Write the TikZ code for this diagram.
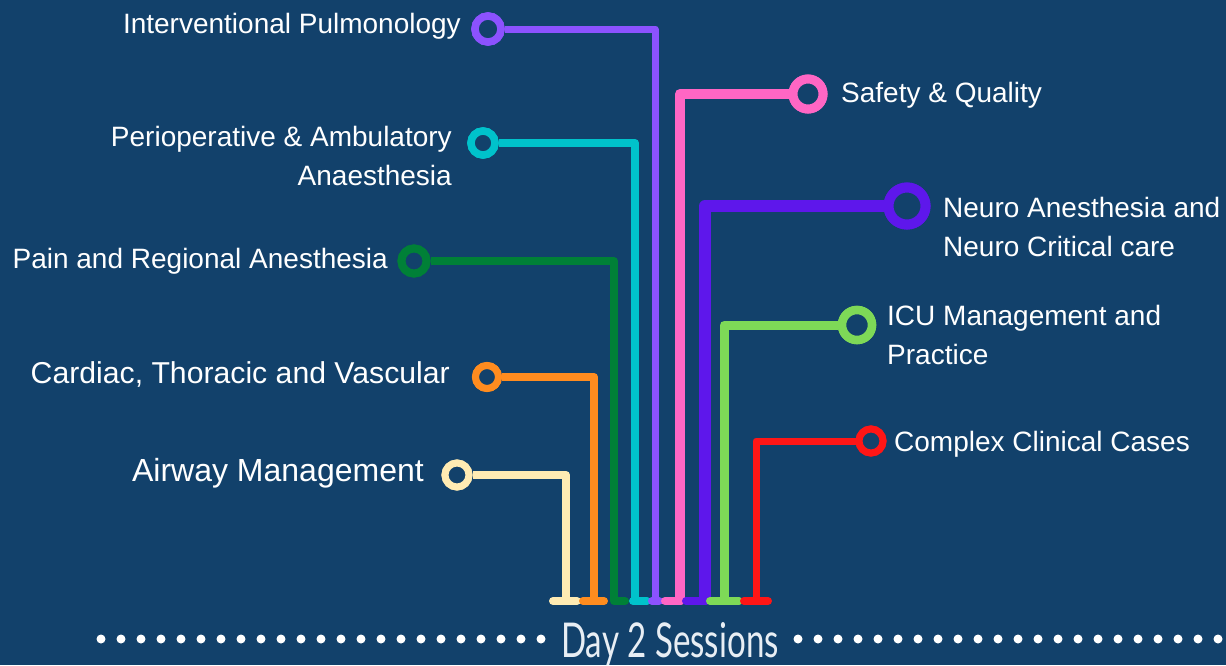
\documentclass[tikz,border=0pt]{standalone}
\usepackage{fontspec}
\setmainfont{Liberation Sans}
\newfontfamily\dayfont[FakeStretch=0.69]{Lato}
\definecolor{bgc}{HTML}{12416B}
\definecolor{cpurple}{HTML}{8C52FF}
\definecolor{ccyan}{HTML}{00C2CB}
\definecolor{cdgreen}{HTML}{008037}
\definecolor{corange}{HTML}{FF8C1F}
\definecolor{cyellow}{HTML}{FFEBB3}
\definecolor{cpink}{HTML}{FF66C4}
\definecolor{cviolet}{HTML}{5E17EB}
\definecolor{clgreen}{HTML}{7ED957}
\definecolor{cred}{HTML}{FF1616}
\definecolor{daytxt}{HTML}{E8EEF4}
\tikzset{
  ring/.style={circle, inner sep=0pt, draw=#1, fill=bgc},
  conn/.style={draw=#1, line join=round},
  foot/.style={draw=#1, line cap=round, line width=8pt},
  lbl/.style={text=white, inner sep=0pt, font=\fontsize{28}{39}\selectfont},
  dot/.style={fill=white}
}
\begin{document}
\begin{tikzpicture}[x=1pt,y=-1pt]
\fill[bgc] (0,0) rectangle (1226,665);
\useasboundingbox (0,0) rectangle (1226,665);

% bottom coordinates
\coordinate (b1) at (655,601);
\coordinate (b2) at (635,601);
\coordinate (b3) at (614,601);
\coordinate (b4) at (594,601);
\coordinate (b5) at (566,601);
\coordinate (b6) at (680,601);
\coordinate (b7) at (705,601);
\coordinate (b8) at (724,601);
\coordinate (b9) at (756,601);

% rings (positions)
\node[ring=cpurple, minimum size=26pt, line width=7.5pt] (r1) at (488,29) {};
\node[ring=ccyan, minimum size=24pt, line width=7.5pt] (r2) at (483,143) {};
\node[ring=cdgreen, minimum size=25pt, line width=8pt] (r3) at (414,261) {};
\node[ring=corange, minimum size=23pt, line width=7pt] (r4) at (487,377) {};
\node[ring=cyellow, minimum size=24pt, line width=7pt] (r5) at (457,475) {};
\node[ring=cpink, minimum size=30pt, line width=9pt] (r6) at (808,94) {};
\node[ring=cviolet, minimum size=37pt, line width=10pt] (r7) at (907,206) {};
\node[ring=clgreen, minimum size=30pt, line width=8.5pt] (r8) at (857,325) {};
\node[ring=cred, minimum size=24pt, line width=7pt] (r9) at (871,441) {};

% connectors
\draw[conn=cpurple, line width=7pt] (r1) -| (b1);
\draw[conn=ccyan, line width=8pt] (r2) -| (b2);
\draw[conn=cdgreen, line width=7.5pt] (r3) -| (b3);
\draw[conn=corange, line width=8pt] (r4) -| (b4);
\draw[conn=cyellow, line width=8pt] (r5) -| (b5);
\draw[conn=cpink, line width=10pt] (r6) -| (b6);
\draw[conn=cviolet, line width=12pt] (r7) -| (b7);
\draw[conn=clgreen, line width=9pt] (r8) -| (b8);
\draw[conn=cred, line width=7pt] (r9) -| (b9);

% redraw rings on top of connectors
\node[ring=cpurple, minimum size=26pt, line width=7.5pt] at (r1) {};
\node[ring=ccyan, minimum size=24pt, line width=7.5pt] at (r2) {};
\node[ring=cdgreen, minimum size=25pt, line width=8pt] at (r3) {};
\node[ring=corange, minimum size=23pt, line width=7pt] at (r4) {};
\node[ring=cyellow, minimum size=24pt, line width=7pt] at (r5) {};
\node[ring=cpink, minimum size=30pt, line width=9pt] at (r6) {};
\node[ring=cviolet, minimum size=37pt, line width=10pt] at (r7) {};
\node[ring=clgreen, minimum size=30pt, line width=8.5pt] at (r8) {};
\node[ring=cred, minimum size=24pt, line width=7pt] at (r9) {};

% feet
\coordinate (f5a) at (553,601); \coordinate (f5b) at (577,601);
\coordinate (f4a) at (583,601); \coordinate (f4b) at (604,601);
\coordinate (f3a) at (614,601); \coordinate (f3b) at (625,601);
\coordinate (f2a) at (633,601); \coordinate (f2b) at (647,601);
\coordinate (f1a) at (652,601); \coordinate (f1b) at (659,601);
\coordinate (f6a) at (665,601); \coordinate (f6b) at (681,601);
\coordinate (f7a) at (686,601); \coordinate (f7b) at (706,601);
\coordinate (f8a) at (710,601); \coordinate (f8b) at (739,601);
\coordinate (f9a) at (744,601); \coordinate (f9b) at (768,601);
\draw[foot=cyellow] (f5a) -- (f5b);
\draw[foot=corange] (f4a) -- (f4b);
\draw[foot=cdgreen] (f3a) -- (f3b);
\draw[foot=ccyan] (f2a) -- (f2b);
\draw[foot=cpurple] (f1a) -- (f1b);
\draw[foot=cpink] (f6a) -- (f6b);
\draw[foot=cviolet] (f7a) -- (f7b);
\draw[foot=clgreen] (f8a) -- (f8b);
\draw[foot=cred] (f9a) -- (f9b);

% labels
\node[lbl, anchor=base east] (l1) at (461,33) {Interventional Pulmonology};
\node[lbl, anchor=north east, align=right] (l2) at (452,126) {Perioperative \& Ambulatory\\Anaesthesia};
\node[lbl, anchor=base east] (l3) at (388,268) {Pain and Regional Anesthesia};
\node[lbl, anchor=base east, font=\fontsize{30.2}{36}\selectfont] (l4) at (450,383) {Cardiac, Thoracic and Vascular};
\node[lbl, anchor=base east, font=\fontsize{32}{38}\selectfont] (l5) at (424,481) {Airway Management};
\node[lbl, anchor=base west] (l6) at (841,102) {Safety \& Quality};
\node[lbl, anchor=north west, align=left] (l7) at (943,197) {Neuro Anesthesia and\\Neuro Critical care};
\node[lbl, anchor=north west, align=left] (l8) at (887,305) {ICU Management and\\Practice};
\node[lbl, anchor=base west] (l9) at (894,451) {Complex Clinical Cases};

% footer
\foreach \i in {0,...,22} \fill[dot] (101+20*\i,639) circle[radius=4.5pt];
\foreach \i in {0,...,21} \fill[dot] (798+20*\i,639) circle[radius=4.5pt];
\node[text=daytxt, inner sep=0pt, anchor=base, font=\dayfont\fontsize{48}{48}\selectfont] (title) at (670,657) {Day 2 Sessions};
\end{tikzpicture}
\end{document}
